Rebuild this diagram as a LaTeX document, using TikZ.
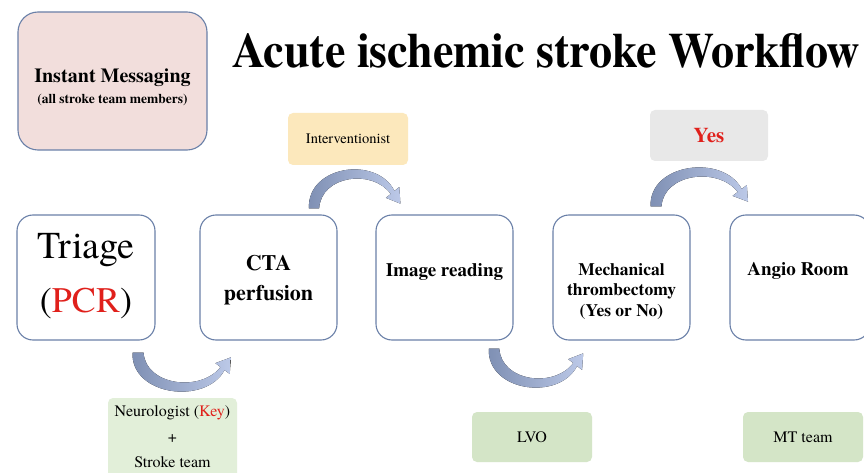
\documentclass[tikz,border=0pt]{standalone}
\usepackage{fontspec}
\usepackage{graphicx}
\IfFontExistsTF{texgyretermes-regular.otf}{%
  \setmainfont{texgyretermes}[Extension=.otf,UprightFont=*-regular,BoldFont=*-bold,ItalicFont=*-italic,BoldItalicFont=*-bolditalic]}{%
  \setmainfont{Liberation Serif}}
\usetikzlibrary{calc}
\definecolor{bordc}{HTML}{6A80A8}
\definecolor{pinkc}{HTML}{F2DEDC}
\definecolor{yelc}{HTML}{FCE8BC}
\definecolor{grayc}{HTML}{E8E8E8}
\definecolor{greenl}{HTML}{E2EFD9}
\definecolor{greenc}{HTML}{D4E5C7}
\definecolor{redc}{HTML}{E0201B}
\definecolor{arrL}{HTML}{7E8FB3}
\definecolor{arrR}{HTML}{BCC9E8}
\tikzset{
  stepbox/.style={draw=bordc, line width=1.1pt, rounded corners=16pt, fill=white, minimum width=137pt, minimum height=125pt, align=center},
  tagbox/.style={rounded corners=5pt, minimum width=120pt, minimum height=50pt, align=center, font=\fontsize{15}{18}\selectfont},
  crescent/.pic={
    \fill[left color=arrL, right color=arrR] (-5,0) .. controls (-7,43) and (68,53) .. (87,17.5) -- (92.2,21.4) -- (93.4,4.8) -- (77.8,10.6) -- (83,14.5) .. controls (63,40) and (8,33) .. (6,0) -- cycle;
  }
}
\begin{document}
\begin{tikzpicture}[x=1pt,y=-1pt]
\useasboundingbox (0,0) rectangle (864,473);
\clip (0,0) rectangle (864,473);
\fill[white] (0,0) rectangle (864,473);

% Instant messaging
\node[draw=bordc, line width=1.1pt, rounded corners=20pt, fill=pinkc, minimum width=189pt, minimum height=138pt, align=center] (im) at (112.5,81) {};
\node[font=\bfseries\fontsize{20}{22}\selectfont] (imt) at (112.5,78) {Instant Messaging};
\node[font=\bfseries\fontsize{13.5}{15}\selectfont] (ims) at (112.5,100) {(all stroke team members)};

% Title
\node[anchor=base, inner sep=0pt] (title) at (546,68) {\resizebox{628pt}{34pt}{\bfseries\fontsize{50}{56}\selectfont Acute ischemic stroke Workflow}};

% Step boxes
\node[stepbox, minimum width=138pt] (triage) at (86,277.5) {};
\node[font=\fontsize{38}{44}\selectfont, anchor=base] at (86,258) {Triage};
\node[font=\fontsize{36}{42}\selectfont, anchor=base] at (86,312) {(\textcolor{redc}{PCR})};

\node[stepbox] (cta) at (268.5,277.5) {};
\node[font=\bfseries\fontsize{22}{30}\selectfont, align=center] at (268.5,280) {CTA\\perfusion};

\node[stepbox] (img) at (444.5,277.5) {};
\node[font=\bfseries\fontsize{19}{22}\selectfont] at (444.5,272) {Image reading};

\node[stepbox] (mt) at (621.5,277.5) {};
\node[font=\bfseries\fontsize{17.5}{20.5}\selectfont, align=center] at (621.5,291) {Mechanical\\thrombectomy\\(Yes or No)};

\node[stepbox, minimum width=140pt] (angio) at (800,277.5) {};
\node[font=\bfseries\fontsize{19}{22}\selectfont] at (798,271) {Angio Room};

% Tag boxes
\node[tagbox, fill=yelc, minimum height=52pt, font=\fontsize{14.5}{17}\selectfont] (interv) at (348,139) {Interventionist};
\node[tagbox, fill=grayc, minimum width=118pt, minimum height=51pt, font=\bfseries\fontsize{21}{24}\selectfont, text=redc] (yes) at (709,135.5) {Yes};
\node[tagbox, fill=greenl, minimum width=129pt, minimum height=84pt] (neuro) at (172.5,440) {};
\node[font=\fontsize{16}{25.5}\selectfont, align=center] at (172.5,437) {Neurologist (\textcolor{redc}{Key})\\+\\Stroke team};
\node[tagbox, fill=greenc, font=\fontsize{16}{18}\selectfont] (lvo) at (532,437) {LVO};
\node[tagbox, fill=greenc, font=\fontsize{16}{18}\selectfont] (mtt) at (803,437) {MT team};

% Curved arrows
\pic at ($(triage.south east)+(-18,12)$) {crescent};
\pic[xscale=0.93, yscale=-1] at ($(cta.north east)+(-24,-6)$) {crescent};
\pic[xscale=0.96] at ($(img.south east)+(-20,8)$) {crescent};
\pic[xscale=0.99, yscale=-1] at ($(mt.north east)+(-35,-8)$) {crescent};
\end{tikzpicture}
\end{document}
